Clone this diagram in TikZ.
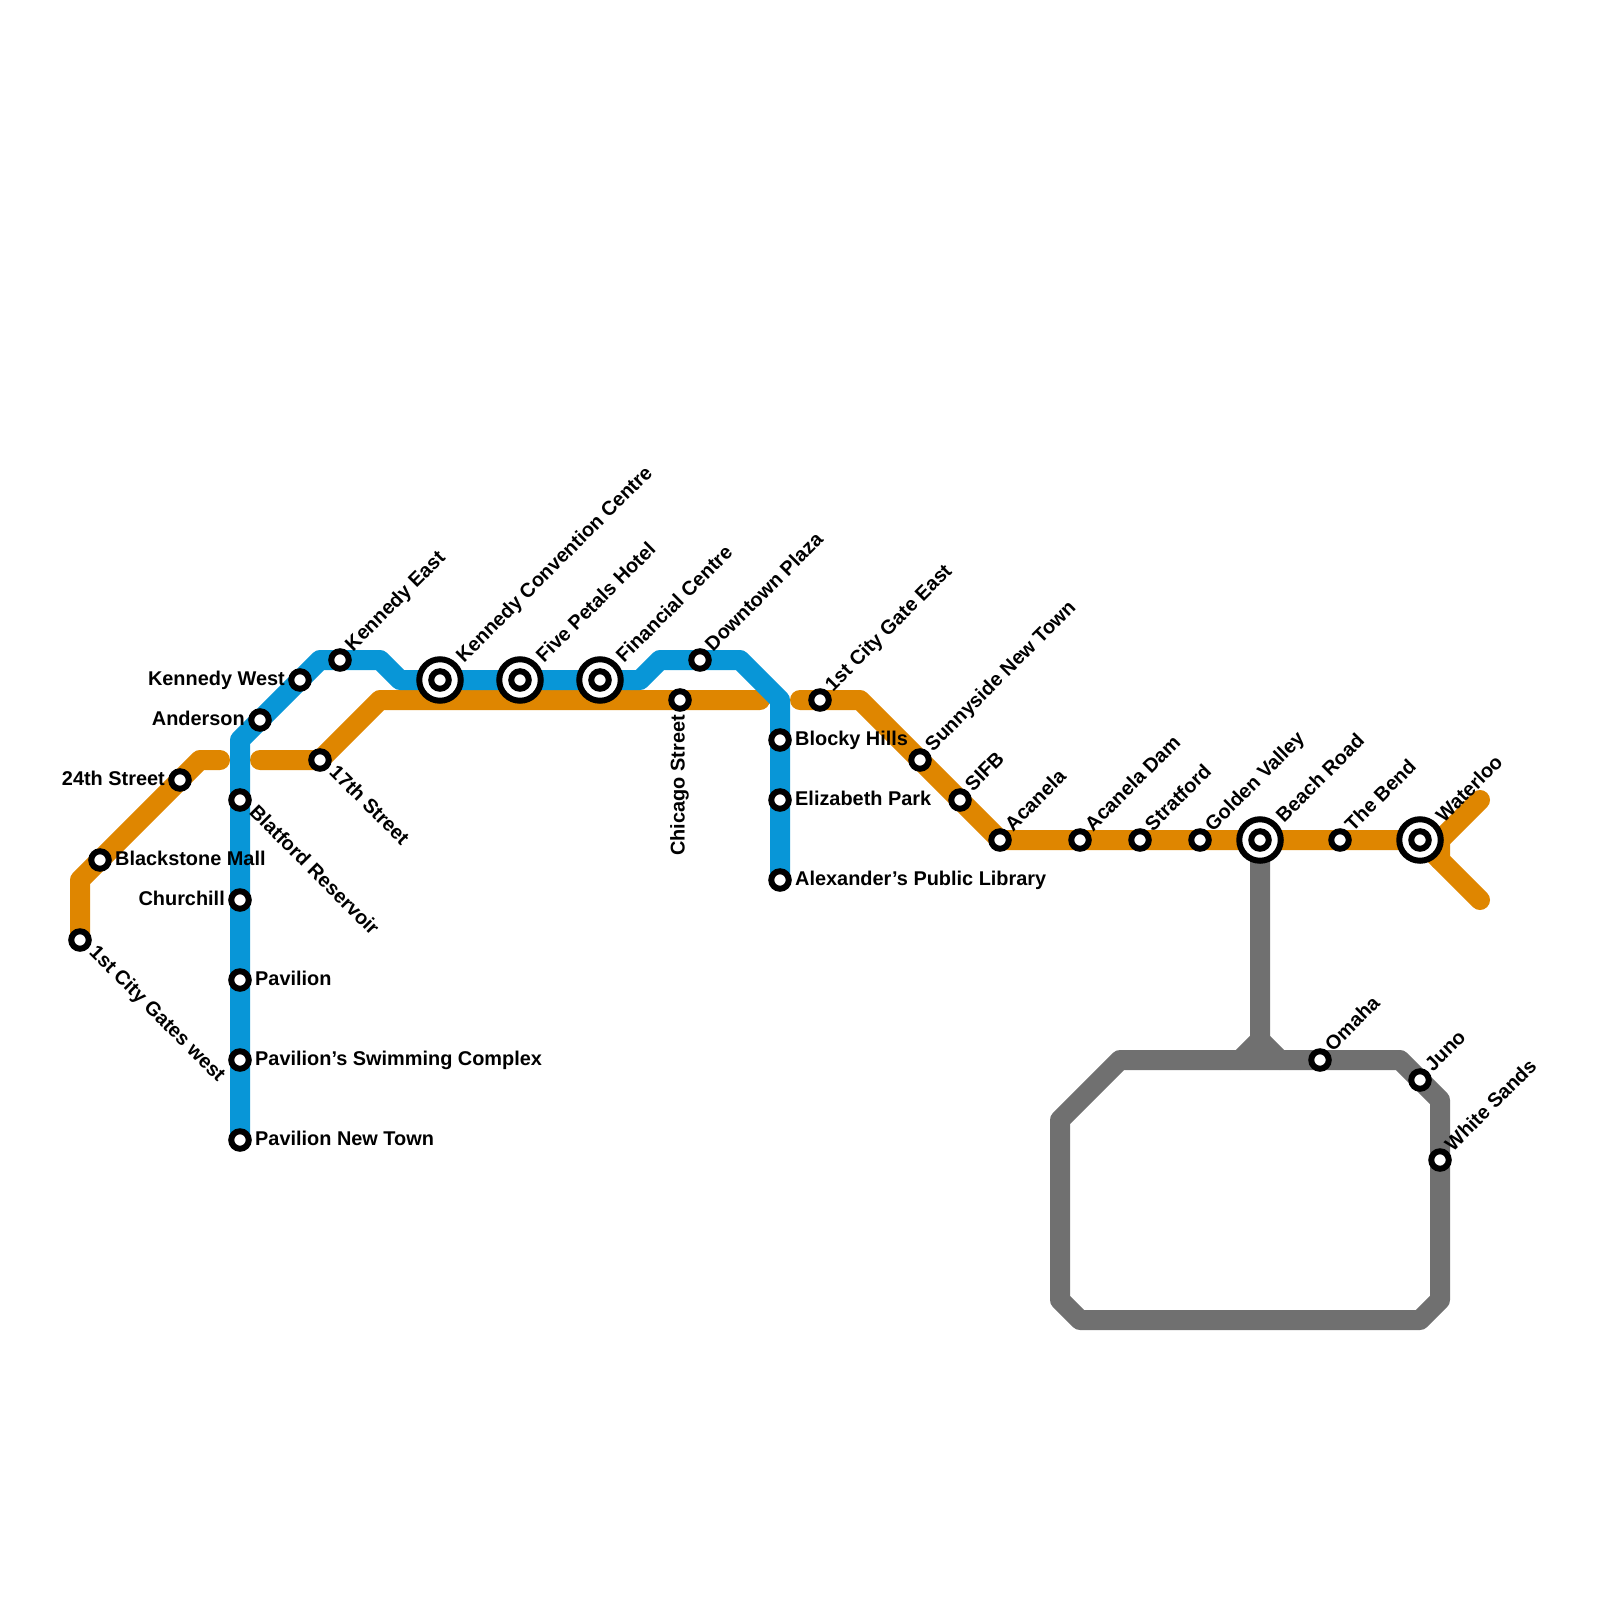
\documentclass[tikz,border=0pt]{standalone}
\usepackage{fontspec}
\usepackage{xcolor}
\setmainfont{Liberation Sans}
\usetikzlibrary{positioning, backgrounds}
\definecolor{orangeline}{HTML}{DF8600}
\definecolor{blueline}{HTML}{0896D7}
\definecolor{grayline}{HTML}{707070}
\begin{document}
\begin{tikzpicture}[
    x=1pt, y=-1pt, on grid,
    stn/.style={circle, draw=black, fill=white, line width=6pt, inner sep=0pt, minimum size=17.5pt},
    hub/.style={circle, draw=black, fill=white, line width=6pt, inner sep=0pt, minimum size=41.5pt},
    metro/.style={line width=20pt, line join=round, line cap=round},
    lbl/.style={inner sep=0pt, font=\fontsize{19.9pt}{22pt}\selectfont\bfseries},
    lblr/.style={lbl, anchor=base west, shift={(15,5.5)}},
    lbll/.style={lbl, anchor=base east, shift={(-15,5.5)}},
    lblne/.style={lbl, anchor=base west, shift={(13,-7.8)}, rotate=45},
    lblhub/.style={lbl, anchor=base west, shift={(24,-16.5)}, rotate=45},
    lblse/.style={lbl, anchor=base west, shift={(8.3,13.4)}, rotate=-45},
    lbldn/.style={lbl, anchor=base east, shift={(4.5,15)}, rotate=90},
]
\useasboundingbox (0,0) rectangle (1600,1600);

\node[stn] (gateswest) at (80,940) {};
\node[stn] (blackstone) at (100,860) {};
\node[stn] (street24) at (180,780) {};
\node[stn] (street17) at (320,760) {};
\node[stn] (chicago) at (680,700) {};
\node[stn, right=140pt of chicago] (gateeast) {};
\node[stn] (sunnyside) at (920,760) {};
\node[stn] (sifb) at (960,800) {};
\node[stn] (acanela) at (1000,840) {};
\node[stn, right=80pt of acanela] (acaneladam) {};
\node[stn, right=60pt of acaneladam] (stratford) {};
\node[stn, right=60pt of stratford] (golden) {};
\node[hub, right=60pt of golden] (beach) {};
\node[stn, right=0pt of beach] (beachin) {};
\node[stn, right=80pt of beach] (bend) {};
\node[hub, right=80pt of bend] (waterloo) {};
\node[stn, right=0pt of waterloo] (waterlooin) {};

\node[stn] (blatford) at (240,800) {};
\node[stn, below=100pt of blatford] (churchill) {};
\node[stn, below=80pt of churchill] (pavilion) {};
\node[stn, below=80pt of pavilion] (swimming) {};
\node[stn, below=80pt of swimming] (newtown) {};
\node[stn] (anderson) at (260,720) {};
\node[stn] (kennedyw) at (300,680) {};
\node[stn] (kennedye) at (340,660) {};
\node[hub] (convention) at (440,680) {};
\node[stn, right=0pt of convention] (conventionin) {};
\node[hub, right=80pt of convention] (petals) {};
\node[stn, right=0pt of petals] (petalsin) {};
\node[hub, right=80pt of petals] (financial) {};
\node[stn, right=0pt of financial] (financialin) {};
\node[stn] (downtown) at (700,660) {};
\node[stn] (blocky) at (780,740) {};
\node[stn, below=60pt of blocky] (elizabeth) {};
\node[stn, below=80pt of elizabeth] (library) {};

\node[stn] (omaha) at (1320,1060) {};
\node[stn] (juno) at (1420,1080) {};
\node[stn] (sands) at (1440,1160) {};

\coordinate (oa) at (80,880);
\coordinate (ob) at (200,760);
\coordinate (oc) at (220,760);
\coordinate (od) at (260,760);
\coordinate (oe) at (380,700);
\coordinate (of) at (760,700);
\coordinate (og) at (800,700);
\coordinate (oh) at (860,700);
\coordinate (oi) at (1440,840);
\coordinate (oj) at (1480,800);
\coordinate (ok) at (1440,860);
\coordinate (ol) at (1480,900);

\coordinate (ba) at (240,740);
\coordinate (bb) at (320,660);
\coordinate (bc) at (380,660);
\coordinate (bd) at (400,680);
\coordinate (be) at (640,680);
\coordinate (bf) at (660,660);
\coordinate (bg) at (740,660);
\coordinate (bh) at (780,700);

\coordinate (ga) at (1260,1040);
\coordinate (gb) at (1240,1060);
\coordinate (gc) at (1280,1060);
\coordinate (gd) at (1400,1060);
\coordinate (ge) at (1440,1100);
\coordinate (gf) at (1440,1300);
\coordinate (gg) at (1420,1320);
\coordinate (gh) at (1080,1320);
\coordinate (gi) at (1060,1300);
\coordinate (gj) at (1060,1120);
\coordinate (gk) at (1120,1060);

\begin{scope}[on background layer]
\draw[metro, grayline] (beach.center) -- (ga) -- (gb);
\draw[metro, grayline] (ga) -- (gc);
\draw[metro, grayline] (gk) -- (gd) -- (ge) -- (gf) -- (gg) -- (gh) -- (gi) -- (gj) -- cycle;

\draw[metro, orangeline] (gateswest.center) -- (oa) -- (ob) -- (oc);
\draw[metro, orangeline] (od) -- (street17.center) -- (oe) -- (of);
\draw[metro, orangeline] (og) -- (oh) -- (acanela.center) -- (waterloo.center) -- (oi) -- (oj);
\draw[metro, orangeline] (oi) -- (ok) -- (ol);
\draw[metro, orangeline] (waterloo.center) -- (ok);

\draw[metro, blueline] (newtown.center) -- (ba) -- (bb) -- (bc) -- (bd) -- (be) -- (bf) -- (bg) -- (bh) -- (library.center);
\end{scope}

\node[lblse] (gateswesttxt) at (gateswest) {1st City Gates west};
\node[lblr] (blackstonetxt) at (blackstone) {Blackstone Mall};
\node[lbll] (street24txt) at (street24) {24th Street};
\node[lblse] (street17txt) at (street17) {17th Street};
\node[lbldn] (chicagotxt) at (chicago) {Chicago Street};
\node[lblne] (gateeasttxt) at (gateeast) {1st City Gate East};
\node[lblne] (sunnysidetxt) at (sunnyside) {Sunnyside New Town};
\node[lblne] (sifbtxt) at (sifb) {SIFB};
\node[lblne] (acanelatxt) at (acanela) {Acanela};
\node[lblne] (acaneladamtxt) at (acaneladam) {Acanela Dam};
\node[lblne] (stratfordtxt) at (stratford) {Stratford};
\node[lblne] (goldentxt) at (golden) {Golden Valley};
\node[lblhub] (beachtxt) at (beach) {Beach Road};
\node[lblne] (bendtxt) at (bend) {The Bend};
\node[lblhub] (waterlootxt) at (waterloo) {Waterloo};

\node[lblse] (blatfordtxt) at (blatford) {Blatford Reservoir};
\node[lbll] (churchilltxt) at (churchill) {Churchill};
\node[lblr] (paviliontxt) at (pavilion) {Pavilion};
\node[lblr] (swimmingtxt) at (swimming) {Pavilion’s Swimming Complex};
\node[lblr] (newtowntxt) at (newtown) {Pavilion New Town};
\node[lbll] (andersontxt) at (anderson) {Anderson};
\node[lbll] (kennedywtxt) at (kennedyw) {Kennedy West};
\node[lblne] (kennedyetxt) at (kennedye) {Kennedy East};
\node[lblhub] (conventiontxt) at (convention) {Kennedy Convention Centre};
\node[lblhub] (petalstxt) at (petals) {Five Petals Hotel};
\node[lblhub] (financialtxt) at (financial) {Financial Centre};
\node[lblne] (downtowntxt) at (downtown) {Downtown Plaza};
\node[lblr] (blockytxt) at (blocky) {Blocky Hills};
\node[lblr] (elizabethtxt) at (elizabeth) {Elizabeth Park};
\node[lblr] (librarytxt) at (library) {Alexander’s Public Library};

\node[lblne] (omahatxt) at (omaha) {Omaha};
\node[lblne] (junotxt) at (juno) {Juno};
\node[lblne] (sandstxt) at (sands) {White Sands};

\end{tikzpicture}
\end{document}
